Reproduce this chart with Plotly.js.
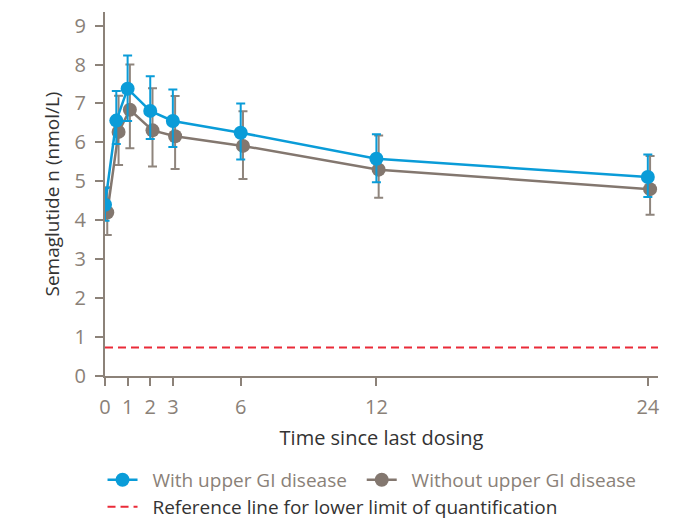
<!DOCTYPE html>
<html>
<head>
<meta charset="utf-8">
<script src="https://cdn.plot.ly/plotly-3.0.1.min.js"></script>
<style>html,body{margin:0;padding:0;background:#fff;}#chart{width:679px;height:520px;}</style>
</head>
<body>
<div id="chart"></div>
<script>
// Time since last dosing (hours)
const time = [0, 0.5, 1, 2, 3, 6, 12, 24];
const xTickVals = [0, 1, 2, 3, 6, 12, 24];
const xTickText = ["0", "1", "2", "3", "6", "12", "24"];

// With upper GI disease
const withMean  = [4.40, 6.56, 7.38, 6.81, 6.55, 6.25, 5.58, 5.11];
const withUpper = [4.83, 7.32, 8.23, 7.70, 7.36, 7.00, 6.21, 5.69];
const withLower = [3.99, 5.96, 6.55, 6.09, 5.88, 5.56, 4.98, 4.60];

// Without upper GI disease
const withoutMean  = [4.20, 6.27, 6.84, 6.31, 6.16, 5.91, 5.30, 4.80];
const withoutUpper = [4.85, 7.20, 8.00, 7.39, 7.19, 6.80, 6.18, 5.65];
const withoutLower = [3.62, 5.42, 5.85, 5.38, 5.32, 5.06, 4.58, 4.14];

// Lower limit of quantification
const lloq = 0.73;

const xRange = [0, 24.45];
const yRange = [0, 9.35];
const dodge = 0.1;

const blue = "#0a9cd8";
const gray = "#83776f";
const axisGray = "#8c8279";
const textGray = "#8a8178";
const pad = "\u00a0\u00a0";

function errArrays(mean, up, lo) {
  return {
    plus: mean.map((m, i) => +(up[i] - m).toFixed(3)),
    minus: mean.map((m, i) => +(m - lo[i]).toFixed(3))
  };
}
const eWith = errArrays(withMean, withUpper, withLower);
const eWithout = errArrays(withoutMean, withoutUpper, withoutLower);

const traces = [
  {
    x: xRange, y: [lloq, lloq], mode: "lines", type: "scatter",
    name: pad + "Reference line for lower limit of quantification",
    line: {color: "#ea2b38", width: 2, dash: "8px,5px"},
    legend: "legend2", hoverinfo: "skip"
  },
  {
    x: time.map(t => t + dodge), y: withoutMean, mode: "lines+markers", type: "scatter",
    name: pad + "Without upper GI disease",
    line: {color: gray, width: 2.5},
    marker: {color: gray, size: 14},
    error_y: {type: "data", symmetric: false, array: eWithout.plus, arrayminus: eWithout.minus,
              color: "#8f857d", thickness: 2, width: 4.5}
  },
  {
    x: time, y: withMean, mode: "lines+markers", type: "scatter",
    name: pad + "With upper GI disease" + pad,
    line: {color: blue, width: 2.5},
    marker: {color: blue, size: 14},
    error_y: {type: "data", symmetric: false, array: eWith.plus, arrayminus: eWith.minus,
              color: blue, thickness: 2, width: 4.5}
  }
];

const layout = {
  width: 679, height: 520,
  margin: {l: 105, r: 21, t: 12, b: 144},
  paper_bgcolor: "#fff", plot_bgcolor: "#fff",
  font: {family: "Open Sans, sans-serif", color: "#333"},
  showlegend: true,
  xaxis: {
    range: xRange, tickvals: xTickVals, ticktext: xTickText,
    showgrid: false, zeroline: false, showline: true, linecolor: axisGray, linewidth: 2,
    ticks: "outside", ticklen: 8, tickwidth: 2, tickcolor: axisGray,
    ticklabelstandoff: 4,
    tickfont: {size: 20, color: textGray},
    title: {text: "Time since last dosing", font: {size: 20, color: "#333"}, standoff: 12}
  },
  yaxis: {
    range: yRange, tickvals: [0,1,2,3,4,5,6,7,8,9],
    showgrid: false, zeroline: false, showline: true, linecolor: axisGray, linewidth: 2,
    ticks: "outside", ticklen: 8, tickwidth: 2, tickcolor: axisGray,
    ticklabelstandoff: 5,
    tickfont: {size: 20, color: textGray},
    title: {text: "Semaglutide n (nmol/L)", font: {size: 19, color: "#333"}, standoff: 10}
  },
  legend: {
    orientation: "h", xref: "container", yref: "container",
    x: 0.151, y: 0.077, xanchor: "left", yanchor: "middle",
    font: {size: 19, color: textGray}, traceorder: "reversed",
    itemwidth: 30, bgcolor: "rgba(0,0,0,0)"
  },
  legend2: {
    orientation: "h", xref: "container", yref: "container",
    x: 0.151, y: 0.025, xanchor: "left", yanchor: "middle",
    font: {size: 19, color: "#333"},
    itemwidth: 30, bgcolor: "rgba(0,0,0,0)"
  }
};

Plotly.newPlot("chart", traces, layout, {displayModeBar: false, staticPlot: true});
</script>
</body>
</html>
